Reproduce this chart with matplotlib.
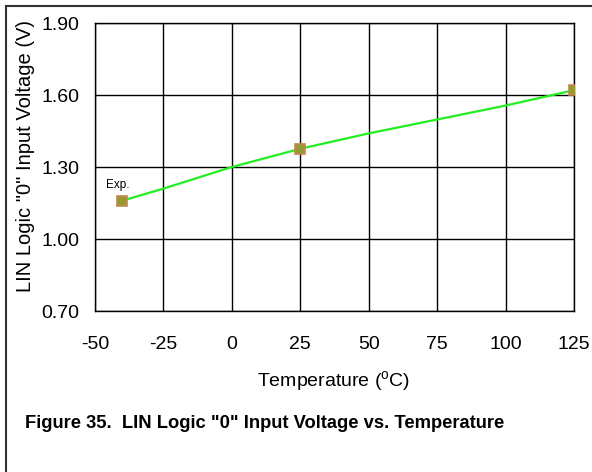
import matplotlib.pyplot as plt
from matplotlib.lines import Line2D

plt.rcParams['font.family'] = ['Liberation Sans', 'DejaVu Sans']

# measured points
temp_pts = [-40, 25, 125]
volt_pts = [1.16, 1.376, 1.62]

# curve
temp_curve = [-40, -25, 0, 25, 50, 75, 100, 125]
volt_curve = [1.16, 1.21, 1.30, 1.376, 1.44, 1.498, 1.556, 1.62]

x_ticks = [-50, -25, 0, 25, 50, 75, 100, 125]
y_ticks = [0.70, 1.00, 1.30, 1.60, 1.90]

W, H = 592, 472
fig = plt.figure(figsize=(W / 100, H / 100), dpi=100)
ax = fig.add_axes([95 / W, 1 - 311 / H, (574 - 95) / W, (311 - 23) / H])

ax.plot(temp_curve, volt_curve, color='#22ee22', lw=1.6, zorder=3)
ax.plot(temp_pts, volt_pts, ls='none', marker='s', ms=7,
        mfc='#999933', mec='#c08850', mew=1.2, zorder=4)
ax.text(-41.7, 1.225, 'Exp.', fontsize=8.5, ha='center', va='center')

ax.set_xlim(-50, 125)
ax.set_ylim(0.70, 1.90)
ax.set_xticks(x_ticks)
ax.set_yticks(y_ticks)
ax.set_xticklabels([str(t) for t in x_ticks])
ax.set_yticklabels([f'{v:.2f}' for v in y_ticks])
ax.grid(True, color='black', lw=1.0)
ax.set_axisbelow(True)
for s in ax.spines.values():
    s.set_linewidth(1.0)
ax.tick_params(length=0, labelsize=14)
ax.tick_params(axis='y', pad=11)
ax.tick_params(axis='x', pad=18)

fig.text(26 / W, 1 - 156 / H, 'LIN Logic "0" Input Voltage (V)',
         fontsize=14.5, rotation=90, ha='center', va='center')
fig.text(334 / W, 1 - 382 / H, r'Temperature ($^\mathregular{o}$C)',
         fontsize=14, ha='center', va='center')
fig.text(25 / W, 1 - 423 / H,
         'Figure 35.  LIN Logic "0" Input Voltage vs. Temperature',
         fontsize=13.2, fontweight='bold', ha='left', va='center')

# outer frame (top and left edges visible)
fig.add_artist(Line2D([6 / W, 1], [1 - 6 / H, 1 - 6 / H],
                      transform=fig.transFigure, color='#333333', lw=1.5))
fig.add_artist(Line2D([6 / W, 6 / W], [0, 1 - 6 / H],
                      transform=fig.transFigure, color='#333333', lw=1.5))

fig.savefig('out.png', dpi=100)
